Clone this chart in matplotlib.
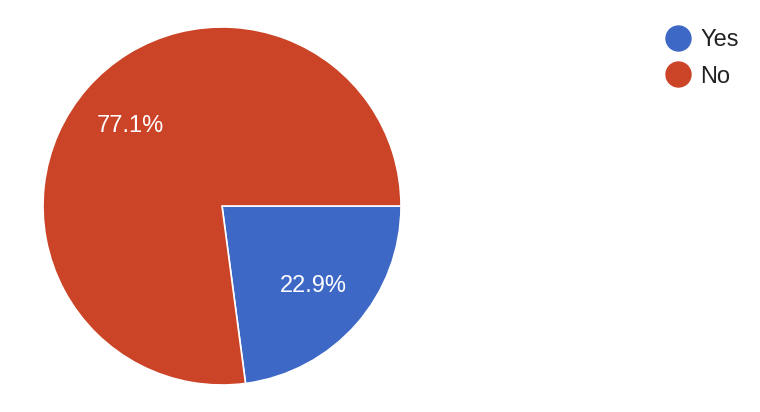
import matplotlib.pyplot as plt
from matplotlib.lines import Line2D

labels = ['Yes', 'No']
values = [22.9, 77.1]
colors = ['#3e68c6', '#cc4427']

plt.rcParams['font.family'] = ['Liberation Sans', 'DejaVu Sans']

fig = plt.figure(figsize=(7.6, 4.12), dpi=100)
W, H = 760, 412
cx, cy, r = 222, 206, 179
ax = fig.add_axes([(cx - r) / W, (H - cy - r) / H, 2 * r / W, 2 * r / H])

wedges, texts, autotexts = ax.pie(
    values, colors=colors, startangle=0, counterclock=False,
    autopct='%1.1f%%', pctdistance=0.68, radius=1,
    wedgeprops=dict(edgecolor='white', linewidth=1.2),
    textprops=dict(color='white', fontsize=17))
ax.set_xlim(-1, 1)
ax.set_ylim(-1, 1)
ax.set_aspect('auto')

handles = [Line2D([], [], marker='o', linestyle='none', markersize=18,
                  markerfacecolor=c, markeredgecolor=c) for c in colors]
fig.legend(handles, labels, loc='upper left', bbox_to_anchor=(666 / W, 1 - 29 / H),
           frameon=False, fontsize=17, labelcolor='#222222',
           handlelength=1.0, handletextpad=0.45, labelspacing=0.62,
           borderaxespad=0, borderpad=0)

fig.savefig('out.png', dpi=100)
